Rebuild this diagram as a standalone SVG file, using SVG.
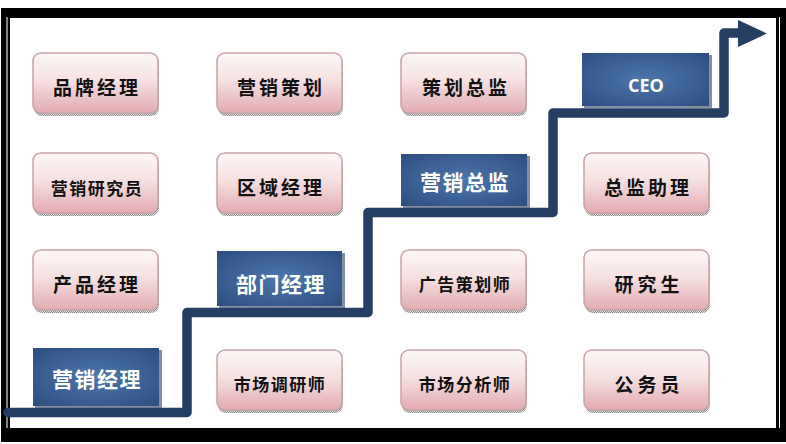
<svg xmlns="http://www.w3.org/2000/svg" width="786" height="444" viewBox="0 0 786 444">
<defs>
<linearGradient id="pg" x1="0" y1="0" x2="0" y2="1">
<stop offset="0" stop-color="#fdf7f7"/>
<stop offset="0.45" stop-color="#f6e1e2"/>
<stop offset="1" stop-color="#e2aab0"/>
</linearGradient>
<radialGradient id="bg" cx="0.5" cy="0.5" r="0.7">
<stop offset="0" stop-color="#4d77ad"/>
<stop offset="1" stop-color="#2c4e80"/>
</radialGradient>
<pattern id="dots" width="2" height="2" patternUnits="userSpaceOnUse">
<rect width="2" height="2" fill="#e0e0e0"/>
<rect width="1" height="1" fill="#888"/>
<rect x="1" y="1" width="1" height="1" fill="#888"/>
</pattern>
</defs>
<style>
.pink .sh{fill:url(#dots);}
.pink .bx{fill:url(#pg);stroke:#c9a3a6;stroke-width:1.5;}
.pink text{font-family:"Noto Sans CJK SC",sans-serif;font-weight:700;fill:#111;text-anchor:middle;}
.blue .sh{fill:#1f3556;opacity:0.55;}
.blue .bx{fill:url(#bg);}
.blue text{font-family:"Noto Sans CJK SC",sans-serif;font-weight:700;fill:#fff;text-anchor:middle;font-size:21px;letter-spacing:1.5px;}
.t4{font-size:19px;letter-spacing:3px;}
.t5{font-size:17px;letter-spacing:1.5px;}
.t3{font-size:19px;letter-spacing:4px;}
.stair{fill:none;stroke:#243f63;stroke-width:9.5;stroke-linejoin:round;stroke-linecap:round;}
</style>
<rect x="0" y="0" width="786" height="444" fill="#fff"/>
<g id="frame">
<rect x="1" y="8" width="785" height="434" fill="#000"/>
<rect x="10" y="18" width="766" height="410" fill="#fff"/>
<line x1="7" y1="17" x2="7" y2="428" stroke="#fff" stroke-width="1"/>
<line x1="779.5" y1="17" x2="779.5" y2="428" stroke="#fff" stroke-width="1"/>
</g>
<g id="connectors">
<path class="stair" d="M8,412.5 H187 V312.5 H368 V212.5 H553 V113 H724 V33 H740"/>
<polygon points="738,20 767,33.5 738,47" fill="#243f63"/>
</g>
<g id="n-pinpai" class="pink"><rect class="sh" x="34" y="56" width="125" height="60" rx="8"/><rect class="bx" x="33" y="53" width="125" height="60" rx="8"/><text class="t4" x="97" y="95">品牌经理</text></g>
<g id="n-yingxiaocehua" class="pink"><rect class="sh" x="218" y="56" width="125" height="60" rx="8"/><rect class="bx" x="217" y="53" width="125" height="60" rx="8"/><text class="t4" x="281" y="95">营销策划</text></g>
<g id="n-cehuazongjian" class="pink"><rect class="sh" x="402" y="56" width="125" height="60" rx="8"/><rect class="bx" x="401" y="53" width="125" height="60" rx="8"/><text class="t4" x="466" y="95">策划总监</text></g>
<g id="n-yingxiaoyanjiuyuan" class="pink"><rect class="sh" x="34" y="156" width="125" height="60" rx="8"/><rect class="bx" x="33" y="153" width="125" height="60" rx="8"/><text class="t5" x="97" y="194.5">营销研究员</text></g>
<g id="n-quyujingli" class="pink"><rect class="sh" x="218" y="156" width="125" height="60" rx="8"/><rect class="bx" x="217" y="153" width="125" height="60" rx="8"/><text class="t4" x="281" y="195">区域经理</text></g>
<g id="n-zongjianzhuli" class="pink"><rect class="sh" x="585" y="156" width="125" height="60" rx="8"/><rect class="bx" x="584" y="153" width="125" height="60" rx="8"/><text class="t4" x="648" y="195">总监助理</text></g>
<g id="n-chanpinjingli" class="pink"><rect class="sh" x="34" y="253" width="125" height="60" rx="8"/><rect class="bx" x="33" y="250" width="125" height="60" rx="8"/><text class="t4" x="97" y="292">产品经理</text></g>
<g id="n-guanggaocehuashi" class="pink"><rect class="sh" x="402" y="253" width="125" height="60" rx="8"/><rect class="bx" x="401" y="250" width="125" height="60" rx="8"/><text class="t5" x="465" y="291">广告策划师</text></g>
<g id="n-yanjiusheng" class="pink"><rect class="sh" x="585" y="253" width="125" height="60" rx="8"/><rect class="bx" x="584" y="250" width="125" height="60" rx="8"/><text class="t3" x="649" y="292">研究生</text></g>
<g id="n-shichangdiaoyanshi" class="pink"><rect class="sh" x="218" y="353" width="125" height="60" rx="8"/><rect class="bx" x="217" y="350" width="125" height="60" rx="8"/><text class="t5" x="280" y="391">市场调研师</text></g>
<g id="n-shichangfenxishi" class="pink"><rect class="sh" x="402" y="353" width="125" height="60" rx="8"/><rect class="bx" x="401" y="350" width="125" height="60" rx="8"/><text class="t5" x="465" y="391">市场分析师</text></g>
<g id="n-gongwuyuan" class="pink"><rect class="sh" x="585" y="353" width="125" height="60" rx="8"/><rect class="bx" x="584" y="350" width="125" height="60" rx="8"/><text class="t3" x="649" y="392">公务员</text></g>
<g id="n-yingxiaojingli" class="blue"><rect class="sh" x="35" y="350" width="127" height="58"/><rect class="bx" x="33" y="348" width="126" height="58"/><text x="97" y="387">营销经理</text></g>
<g id="n-bumenjingli" class="blue"><rect class="sh" x="219" y="253" width="126" height="55"/><rect class="bx" x="217" y="251" width="125" height="55"/><text x="281" y="292">部门经理</text></g>
<g id="n-yingxiaozongjian" class="blue"><rect class="sh" x="403" y="156" width="127" height="52"/><rect class="bx" x="401" y="154" width="126" height="52"/><text x="465" y="190">营销总监</text></g>
<g id="n-ceo" class="blue"><rect class="sh" x="584" y="55" width="128" height="53"/><rect class="bx" x="582" y="53" width="127" height="53"/><text x="646" y="91.5" style="font-family:'Open Sans','Liberation Sans',sans-serif;font-size:18px;letter-spacing:0">CEO</text></g>
</svg>
